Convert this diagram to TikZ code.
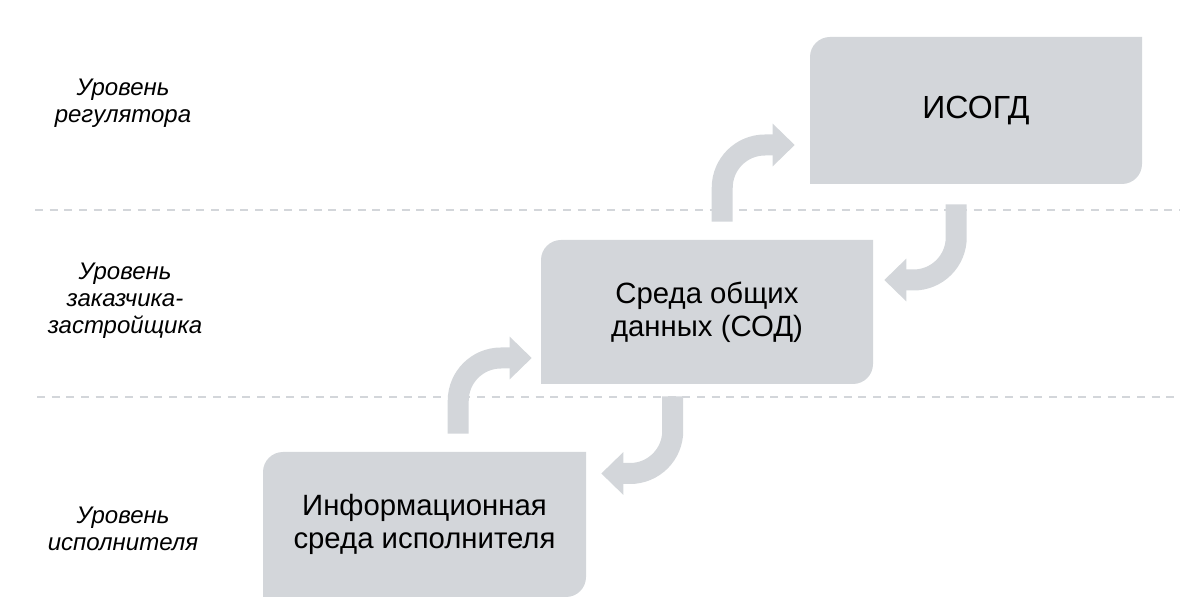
\documentclass[tikz,border=0pt]{standalone}
\usepackage{fontspec}
\setmainfont{Liberation Sans}
\usepackage{xcolor}
\usepackage{tikz}
\usetikzlibrary{arrows.meta,calc}

\definecolor{panelgray}{RGB}{211,214,218}

\tikzset{
  levelbox/.style={minimum width=249pt, minimum height=108pt, inner sep=0pt, align=center, font=\fontsize{22}{24.75}\selectfont},
  levellabel/.style={align=center, font=\itshape\fontsize{18}{20.25}\selectfont},
  flowarrow/.style={draw=panelgray, line width=15.75pt, rounded corners=32pt, -{Triangle[length=16.5pt,width=31pt]}},
  levelline/.style={draw=panelgray, line width=1.5pt, dash pattern={on 6pt off 5pt}}
}

\begin{document}
\begin{tikzpicture}[x=0.75pt,y=0.75pt,yscale=-1,xscale=1]
\useasboundingbox (0,0) rectangle (1200,605);

%Dashed level separators
\draw [levelline] (35,210) -- (1180,210) ;
\draw [levelline] (37,397) -- (1180,397) ;

%Box ISOGD
\fill [panelgray] (830,37) -- (1142,37) -- (1142,164) arc (0:90:20) -- (810,184) -- (810,57) arc (180:270:20) -- cycle ;
%Box SOD
\fill [panelgray] (561,240) -- (873,240) -- (873,364) arc (0:90:20) -- (541,384) -- (541,260) arc (180:270:20) -- cycle ;
%Box ispolnitel
\fill [panelgray] (283,452) -- (586,452) -- (586,577) arc (0:90:20) -- (263,597) -- (263,472) arc (180:270:20) -- cycle ;

% Text Node
\node [levelbox, minimum height=110.25pt, font=\fontsize{24}{27}\selectfont] (isogd) at (976,110.5) {ИСОГД};
% Text Node
\node [levelbox] (sod) at (707,312) {Среда общих\\данных (СОД)};
% Text Node
\node [levelbox, minimum width=242.25pt, minimum height=108.75pt] (isp) at (424.5,524.5) {Информационная\\среда исполнителя};

% Text Node
\node [levellabel] (lvlreg) at (123,103.5) {Уровень\\регулятора};
% Text Node
\node [levellabel] (lvlzak) at (125,301) {Уровень\\заказчика-\\застройщика};
% Text Node
\node [levellabel] (lvlisp) at (123,529) {Уровень\\исполнителя};

%Curve arrows up
\draw [flowarrow] ($(isp.north west)+(195.5,-18)$) |- ($(sod.west)+(-9,46)$) ;
\draw [flowarrow] ($(sod.north west)+(181.5,-18)$) |- ($(isogd.west)+(-15,34.5)$) ;
%Curve arrows down
\draw [flowarrow] ($(isogd.south west)+(146.5,20)$) |- ($(sod.east)+(11,-32)$) ;
\draw [flowarrow] ($(sod.south west)+(132,12)$) |- ($(isp.east)+(15,-51)$) ;
\end{tikzpicture}
\end{document}
